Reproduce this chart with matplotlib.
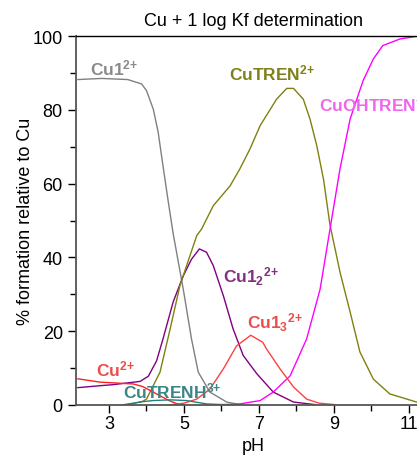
import matplotlib
matplotlib.use("Agg")
import matplotlib.pyplot as plt

plt.rcParams['font.family'] = ['Liberation Sans', 'DejaVu Sans']
plt.rcParams['mathtext.fontset'] = 'custom'
plt.rcParams['mathtext.rm'] = 'Liberation Sans'
plt.rcParams['mathtext.bf'] = 'Liberation Sans:bold'

# species distribution (pH, % formation)
cu1_ph = [2.17, 2.8, 3.5, 3.87, 4.0, 4.18, 4.31, 4.44, 4.57, 4.71, 4.98, 5.2, 5.38, 5.69, 6.14, 6.5]
cu1_pct = [88.2, 88.5, 88.2, 87.0, 85.2, 80.2, 74.0, 64.8, 55.8, 46.5, 31.4, 17.9, 8.9, 3.5, 0.8, 0.1]

cu12_ph = [2.17, 2.84, 3.1, 3.83, 4.05, 4.27, 4.44, 4.71, 4.98, 5.2, 5.41, 5.6, 5.78, 6.05,
           6.31, 6.58, 6.94, 7.38, 7.92, 8.5]
cu12_pct = [4.7, 5.3, 5.5, 6.4, 7.8, 12.0, 17.9, 27.9, 35.0, 39.5, 42.3, 41.4, 37.8, 29.6,
            20.6, 13.4, 8.5, 3.5, 0.8, 0.1]

cutren_ph = [3.47, 3.9, 4.0, 4.36, 4.63, 4.89, 5.16, 5.34, 5.47, 5.78, 6.23, 6.49, 6.76, 7.03,
             7.47, 7.74, 7.92, 8.18, 8.36, 8.54, 8.72, 8.89, 9.16, 9.43, 9.69, 10.05, 10.49, 11.2, 11.6]
cutren_pct = [0.0, 1.0, 1.6, 8.9, 20.6, 32.3, 40.5, 45.9, 47.7, 54.0, 59.4, 64.0, 69.4, 75.7,
              82.9, 85.8, 85.8, 82.9, 77.5, 70.3, 61.2, 49.0, 36.0, 25.2, 14.4, 7.0, 3.0, 0.8, 0.5]

cuohtren_ph = [6.0, 6.49, 7.03, 7.38, 7.83, 8.27, 8.63, 8.85, 9.16, 9.43, 9.78, 10.05, 10.3,
               10.76, 11.2, 11.6]
cuohtren_pct = [0.1, 0.3, 1.2, 3.5, 7.9, 17.9, 31.4, 45.0, 64.0, 77.5, 88.0, 93.8, 97.4,
                99.2, 99.9, 100.0]

cu_ph = [2.17, 2.76, 3.65, 3.9, 4.27, 4.6, 4.8, 5.0]
cu_pct = [7.1, 6.2, 5.7, 5.0, 3.0, 1.2, 0.4, 0.1]

cu13_ph = [4.6, 5.0, 5.34, 5.69, 6.05, 6.4, 6.78, 7.1, 7.2, 7.56, 7.92, 8.27, 8.6, 9.03]
cu13_pct = [0.0, 0.5, 1.6, 4.3, 9.8, 16.0, 18.9, 17.0, 15.2, 9.8, 4.9, 1.6, 0.5, 0.1]

cutrenh_ph = [3.34, 3.9, 4.17, 4.63, 5.07, 5.6, 6.14, 6.3]
cutrenh_pct = [0.0, 0.9, 1.2, 1.4, 1.2, 0.3, 0.05, 0.0]

fig = plt.figure(figsize=(4.17, 4.60), dpi=100)
ax = fig.add_axes([76 / 417, 54 / 460, 354 / 417, 369 / 460])

ax.plot(cu1_ph, cu1_pct, color='#808080', lw=1.0)
ax.plot(cu12_ph, cu12_pct, color='#800080', lw=1.0)
ax.plot(cutren_ph, cutren_pct, color='#808010', lw=1.0)
ax.plot(cuohtren_ph, cuohtren_pct, color='#ff00ff', lw=1.0)
ax.plot(cu_ph, cu_pct, color='#ff2020', lw=1.0)
ax.plot(cu13_ph, cu13_pct, color='#ff4040', lw=1.0)
ax.plot(cutrenh_ph, cutrenh_pct, color='#208080', lw=1.0)

# species labels
lab = dict(fontsize=12.5, va='center', ha='left')
ax.text(2.5, 91.5, r'$\mathbf{Cu1^{2{+}}}$', color='#8a8a8a', **lab)
ax.text(6.19, 90.2, r'$\mathbf{CuTREN^{2{+}}}$', color='#80801a', **lab)
ax.text(8.59, 81.5, r'$\mathbf{CuOHTREN^{{+}}}$', color='#ee66ee', **lab)
ax.text(6.03, 35.0, r'$\mathbf{Cu1_2{}^{2{+}}}$', color='#803080', **lab)
ax.text(6.68, 22.5, r'$\mathbf{Cu1_3{}^{2{+}}}$', color='#ee4c4c', **lab)
ax.text(2.66, 10.0, r'$\mathbf{Cu^{2{+}}}$', color='#ee4c4c', **lab)
ax.text(3.37, 4.0, r'$\mathbf{CuTRENH^{3{+}}}$', color='#3a8585', **lab)

ax.set_xlim(2.12, 11.56)
ax.set_ylim(0, 100)
ax.set_xticks([3, 5, 7, 9, 11])
ax.set_xticks([4, 6, 8, 10], minor=True)
ax.set_yticks([0, 20, 40, 60, 80, 100])
ax.set_yticks([10, 30, 50, 70, 90], minor=True)
ax.tick_params(axis='both', which='major', labelsize=13, length=6, width=1, direction='out')
ax.tick_params(axis='both', which='minor', length=4, width=1, direction='out')
ax.tick_params(axis='x', which='major', pad=1)
ax.tick_params(top=False, right=False)

for side in ['left', 'bottom']:
    ax.spines[side].set_color('#555555')
    ax.spines[side].set_linewidth(1.3)
ax.spines['top'].set_color('black')
ax.spines['top'].set_linewidth(1.0)
ax.spines['right'].set_visible(False)

ax.set_xlabel('pH', fontsize=13, labelpad=4)
ax.set_ylabel('% formation relative to Cu', fontsize=13, labelpad=-1)
ax.set_title('Cu + 1 log Kf determination', fontsize=13, pad=8)

fig.savefig('out.png', dpi=100)
